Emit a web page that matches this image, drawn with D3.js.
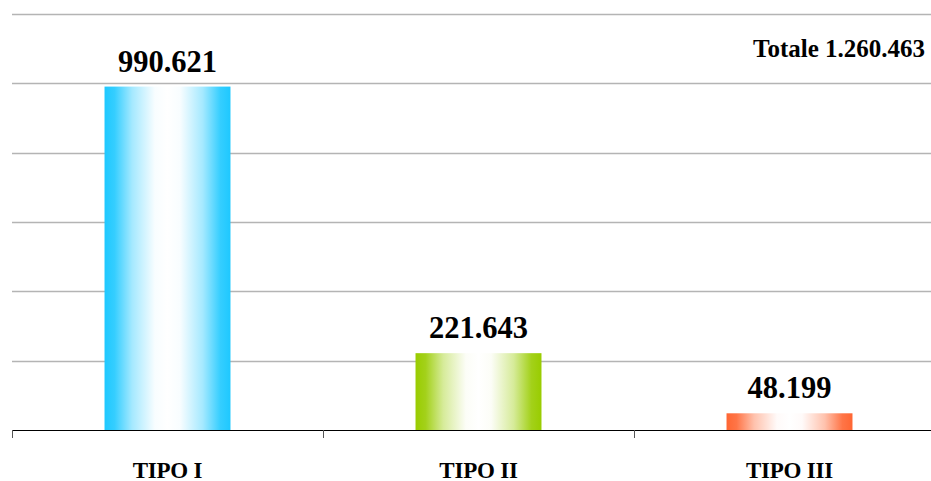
<!DOCTYPE html>
<html>
<head>
<meta charset="utf-8">
<script src="https://cdn.jsdelivr.net/npm/d3@7"></script>
<style>
  html, body { margin: 0; padding: 0; background: #fff; }
  svg { display: block; }
</style>
</head>
<body>
<svg id="chart" width="931" height="481"></svg>
<script>
// Data
const categories = ["TIPO I", "TIPO II", "TIPO III"];
const values = [990621, 221643, 48199];
const valueLabels = ["990.621", "221.643", "48.199"];
const totalLabel = "Totale 1.260.463";
const gridTicks = [0, 200000, 400000, 600000, 800000, 1000000, 1200000];
const barColors = ["#1ec8ff", "#99cc00", "#ff6633"];

const W = 931, H = 481;
const plot = { left: 12, right: 945, top: 14, bottom: 430 };
const FONT = "'Liberation Serif', 'Times New Roman', Tinos, serif";

const svg = d3.select("#chart");

// Scales
const x = d3.scaleBand().domain(categories).range([plot.left, plot.right]).padding(0);
const y = d3.scaleLinear().domain([0, 1200000]).range([plot.bottom, plot.top]);
const barW = x.bandwidth() * 0.405;

// Horizontal gradients: saturated edges fading smoothly to white in the middle
const defs = svg.append("defs");
const gradStops = [[0, 0], [0.08, 0.1], [0.22, 0.6], [0.4, 0.97], [0.5, 1], [0.6, 0.97], [0.78, 0.6], [0.92, 0.1], [1, 0]];
barColors.forEach((c, i) => {
  const tint = d3.interpolateRgb(c, "#ffffff");
  const g = defs.append("linearGradient")
    .attr("id", "grad" + i)
    .attr("x1", "0%").attr("x2", "100%").attr("y1", "0%").attr("y2", "0%");
  gradStops.forEach(([o, t]) => {
    g.append("stop").attr("offset", o).attr("stop-color", tint(t));
  });
});

// Gridlines
svg.append("g")
  .selectAll("line")
  .data(gridTicks.filter(d => d > 0))
  .join("line")
  .attr("x1", plot.left).attr("x2", W)
  .attr("y1", d => Math.round(y(d)) + 0.5).attr("y2", d => Math.round(y(d)) + 0.5)
  .attr("stroke", "#b4b4b4").attr("stroke-width", 1.3);

// Bars
svg.append("g")
  .selectAll("rect")
  .data(values)
  .join("rect")
  .attr("x", (d, i) => x(categories[i]) + (x.bandwidth() - barW) / 2)
  .attr("width", barW)
  .attr("y", d => y(d))
  .attr("height", d => y(0) - y(d))
  .attr("fill", (d, i) => `url(#grad${i})`);

// Category axis: baseline with tick marks at slot boundaries
const xAxis = svg.append("g")
  .attr("transform", `translate(0,${plot.bottom})`);
xAxis.append("line")
  .attr("x1", plot.left).attr("x2", W)
  .attr("y1", 0.5).attr("y2", 0.5)
  .attr("stroke", "#000").attr("stroke-width", 1.2);
xAxis.selectAll("line.tick")
  .data(categories)
  .join("line")
  .attr("class", "tick")
  .attr("x1", d => Math.round(x(d)) + 0.5).attr("x2", d => Math.round(x(d)) + 0.5)
  .attr("y1", 0).attr("y2", 8)
  .attr("stroke", "#555").attr("stroke-width", 1);
xAxis.selectAll("text")
  .data(categories)
  .join("text")
  .attr("x", d => x(d) + x.bandwidth() / 2)
  .attr("y", 47.5)
  .attr("text-anchor", "middle")
  .attr("font-family", FONT).attr("font-weight", "bold")
  .attr("font-size", 23)
  .attr("letter-spacing", "-0.2")
  .text(d => d);

// Value labels
svg.append("g")
  .selectAll("text")
  .data(values)
  .join("text")
  .attr("x", (d, i) => x(categories[i]) + x.bandwidth() / 2)
  .attr("y", d => y(d) - 15)
  .attr("text-anchor", "middle")
  .attr("font-family", FONT).attr("font-weight", "bold")
  .attr("font-size", 30.5)
  .text((d, i) => valueLabels[i]);

// Total
svg.append("text")
  .attr("x", 925).attr("y", 57)
  .attr("text-anchor", "end")
  .attr("font-family", FONT).attr("font-weight", "bold")
  .attr("font-size", 25)
  .text(totalLabel);
</script>
</body>
</html>
